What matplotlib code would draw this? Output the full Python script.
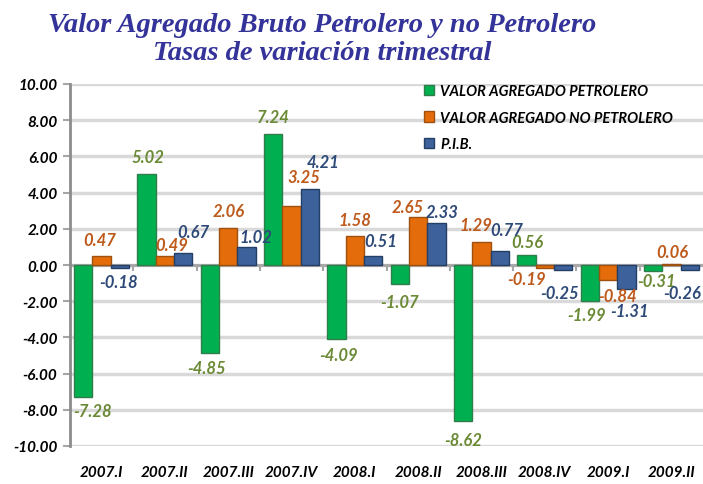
import numpy as np
import matplotlib.pyplot as plt

# data
quarters = ['2007.I', '2007.II', '2007.III', '2007.IV', '2008.I',
            '2008.II', '2008.III', '2008.IV', '2009.I', '2009.II']
petrolero = [-7.28, 5.02, -4.85, 7.24, -4.09, -1.07, -8.62, 0.56, -1.99, -0.31]
no_petrolero = [0.47, 0.49, 2.06, 3.25, 1.58, 2.65, 1.29, -0.19, -0.84, 0.06]
pib = [-0.18, 0.67, 1.02, 4.21, 0.51, 2.33, 0.77, -0.25, -1.31, -0.26]
series_names = ['VALOR AGREGADO PETROLERO', 'VALOR AGREGADO NO PETROLERO', 'P.I.B.']
yticks = np.arange(-10, 10.1, 2)

bar_colors = ['#00B050', '#E46C0A', '#3D619A']
edge_colors = ['#2E7D4A', '#A0500F', '#243F66']
label_colors = ['#6B8A35', '#BD5A1C', '#2E4A78']

# label nudges in pixels (dx, dy) from the bar tip, to follow the original placement
nudges = [
    [(9, -14), (1, 17), (-3, -15), (0, 17), (2, -16), (0, -18), (0, -19), (1, 13), (-3, -14), (4, -10)],
    [(-2, 16), (7, 11), (0, 17), (12, 29), (0, 16), (-10, 10), (-6, 17), (-18, -11), (9, -16), (1, 12)],
    [(-1, -14), (10, 21), (9, 10), (13, 27), (7, 15), (6, 11), (7, 21), (-4, -23), (3, -22), (-8, -23)],
]

plt.rcParams['font.family'] = ['Lato', 'DejaVu Sans']

fig = plt.figure(figsize=(7.03, 4.85), dpi=100)
ax = fig.add_axes([70/703, 38/485, 633/703, 362/485])

x = np.arange(len(quarters))
w = 0.29
series = [petrolero, no_petrolero, pib]
for i, vals in enumerate(series):
    xs = x + (i - 1) * w
    ax.bar(xs, vals, width=w, color=bar_colors[i], edgecolor=edge_colors[i],
           linewidth=1.0, label=series_names[i], zorder=3)
    for xi, v, (dx, dy) in zip(xs, vals, nudges[i]):
        ax.annotate(f'{v:.2f}', (xi, v), xytext=(dx * 0.72, dy * 0.72),
                    textcoords='offset points', ha='center', va='center',
                    fontsize=12, fontstyle='italic', fontweight='bold',
                    color=label_colors[i], zorder=5)

ax.set_xlim(-0.5, len(quarters) - 0.5)
ax.set_ylim(-10, 10)
ax.set_yticks(yticks)
ax.set_yticklabels([f'{t:.2f}' for t in yticks], fontsize=11, fontweight='bold',
                   fontstyle='italic')
ax.yaxis.grid(True, color='#D9D9D9', linewidth=2.5, zorder=0)
ax.set_axisbelow(True)

# zero axis with category tick marks
ax.axhline(0, color='#A6A6A6', linewidth=2, zorder=2)
ax.vlines(np.arange(0.5, len(quarters) - 0.5), -0.35, 0, color='#A6A6A6',
          linewidth=1.5, zorder=2)

ax.set_xticks(x)
ax.set_xticklabels(quarters, fontsize=11, fontweight='bold', fontstyle='italic')
ax.tick_params(axis='x', length=0, pad=14)
ax.tick_params(axis='y', length=5, color='#A6A6A6', width=1.5, pad=4)

for s in ['top', 'right', 'bottom']:
    ax.spines[s].set_visible(False)
ax.spines['left'].set_color('#8C8C8C')
ax.spines['left'].set_linewidth(2)

ax.legend(loc='upper left', bbox_to_anchor=(411/703, 1 - 72/485),
          bbox_transform=fig.transFigure, frameon=False,
          prop={'size': 10.5, 'style': 'italic', 'weight': 'bold'},
          handlelength=0.7, handleheight=0.7, labelspacing=0.85,
          handletextpad=0.4)

title_kw = dict(ha='center', va='center', fontsize=20.5, fontweight='bold',
                fontstyle='italic', color='#33339A', family='Liberation Serif')
fig.text(322/703, 1 - 25/485, 'Valor Agregado Bruto Petrolero y no Petrolero', **title_kw)
fig.text(322/703, 1 - 54/485, 'Tasas de variación trimestral', **title_kw)

fig.savefig('out.png', dpi=100)
